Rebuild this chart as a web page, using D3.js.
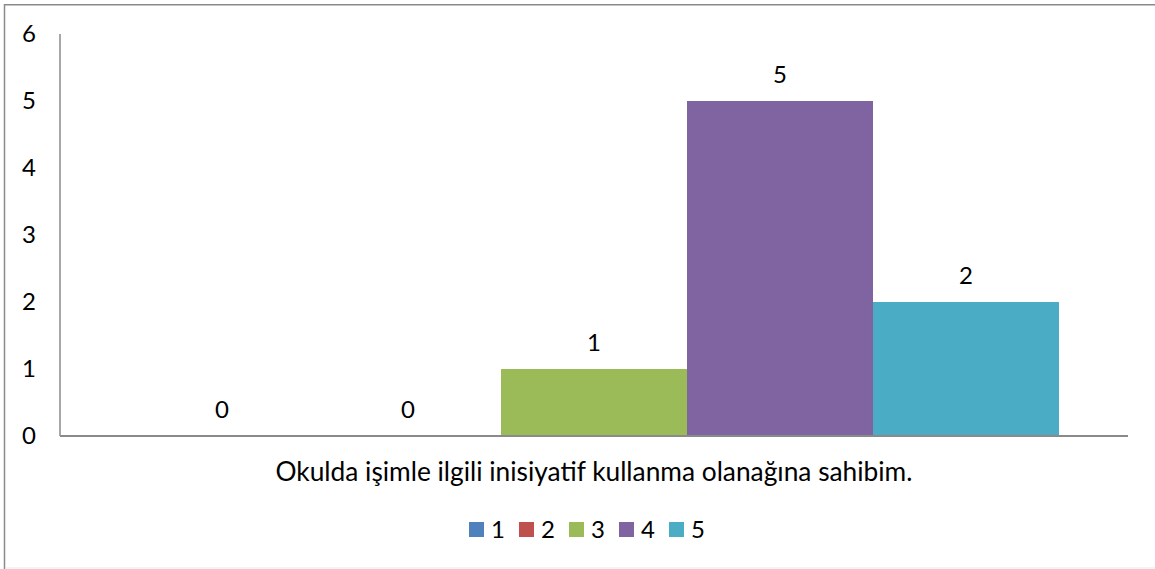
<!DOCTYPE html>
<html>
<head>
<meta charset="utf-8">
<script src="https://cdn.jsdelivr.net/npm/d3@7"></script>
<style>
  html, body { margin: 0; padding: 0; background: #fff; }
  svg { display: block; }
  text { font-family: Lato, "Open Sans", sans-serif; fill: #000; }
</style>
</head>
<body>
<svg id="chart" width="1155" height="569"></svg>
<script>
const categories = ["Okulda işimle ilgili inisiyatif kullanma olanağına sahibim."];
const seriesNames = ["1", "2", "3", "4", "5"];
const seriesValues = [0, 0, 1, 5, 2];
const seriesColors = ["#4F81BD", "#C0504D", "#9BBB59", "#8064A2", "#4BACC6"];
const yTickValues = [0, 1, 2, 3, 4, 5, 6];

const W = 1155, H = 569;
const plot = { left: 60, right: 1128, top: 34, bottom: 436 };
const svg = d3.select("#chart");

// chart border
svg.append("rect")
  .attr("x", 4.5).attr("y", 4.75)
  .attr("width", W + 10).attr("height", 580)
  .attr("fill", "#fff").attr("stroke", "#8a8a8a").attr("stroke-width", 1.5);
svg.append("line")
  .attr("x1", 5).attr("x2", W).attr("y1", 568).attr("y2", 568)
  .attr("stroke", "#e8e8e8").attr("stroke-width", 1);

const y = d3.scaleLinear().domain([0, 6]).range([plot.bottom, plot.top]);
const x0 = d3.scaleBand().domain(categories).range([plot.left, plot.right])
  .paddingInner(0).paddingOuter(0.0742);
const x1 = d3.scaleBand().domain(seriesNames).range([0, x0.bandwidth()]).padding(0);

// y axis
const yAxis = d3.axisLeft(y).tickValues(yTickValues).tickSize(0).tickPadding(24)
  .tickFormat(d3.format("d"));
const gy = svg.append("g").attr("transform", `translate(${plot.left},0)`).call(yAxis);
gy.select(".domain").remove();
gy.selectAll("text").attr("font-size", 24).attr("font-family", "Lato").attr("fill", "#000");
svg.append("line")
  .attr("x1", plot.left).attr("x2", plot.left)
  .attr("y1", plot.top).attr("y2", plot.bottom)
  .attr("stroke", "#8a8a8a").attr("stroke-width", 1.5);

// bars
const data = seriesNames.map((s, i) => ({ name: s, value: seriesValues[i], color: seriesColors[i] }));
const g = svg.append("g").attr("transform", `translate(${x0(categories[0])},0)`);
g.selectAll("rect.bar").data(data).join("rect")
  .attr("class", "bar")
  .attr("x", d => x1(d.name))
  .attr("y", d => y(d.value))
  .attr("width", x1.bandwidth())
  .attr("height", d => y(0) - y(d.value))
  .attr("fill", d => d.color);

g.selectAll("text.lbl").data(data).join("text")
  .attr("class", "lbl")
  .attr("x", d => x1(d.name) + x1.bandwidth() / 2)
  .attr("y", d => y(d.value) - 18)
  .attr("text-anchor", "middle")
  .attr("font-size", 24)
  .text(d => d.value);

// x axis line
svg.append("line")
  .attr("x1", plot.left).attr("x2", plot.right)
  .attr("y1", plot.bottom).attr("y2", plot.bottom)
  .attr("stroke", "#8a8a8a").attr("stroke-width", 1.8);

// category label
svg.append("text")
  .attr("x", x0(categories[0]) + x0.bandwidth() / 2)
  .attr("y", 481)
  .attr("text-anchor", "middle")
  .attr("font-size", 26.3)
  .text(categories[0]);

// legend
const legend = svg.append("g").attr("transform", "translate(469,522)");
const item = legend.selectAll("g").data(data).join("g")
  .attr("transform", (d, i) => `translate(${i * 50},0)`);
item.append("rect").attr("width", 15).attr("height", 15).attr("fill", d => d.color);
item.append("text").attr("x", 22).attr("y", 15.5).attr("font-size", 24).text(d => d.name);
</script>
</body>
</html>
